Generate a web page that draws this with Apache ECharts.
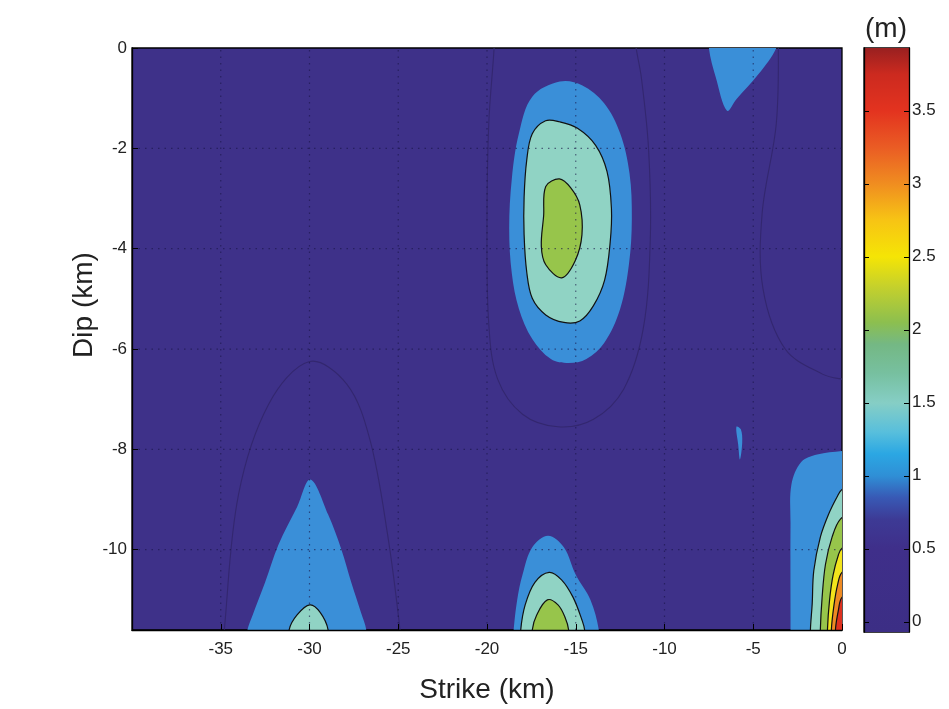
<!DOCTYPE html>
<html>
<head>
<meta charset="utf-8">
<script src="https://cdn.jsdelivr.net/npm/echarts@6/dist/echarts.min.js"></script>
<style>
  html, body { margin: 0; padding: 0; background: #ffffff; }
  #chart { width: 949px; height: 709px; }
</style>
</head>
<body>
<div id="chart"></div>
<script>
// ---- Fault plane extent and ticks (km) ----
const strikeRange = [-40, 0];
const dipRange = [-11.6, 0];
const strikeTicks = [-35, -30, -25, -20, -15, -10, -5, 0];
const dipTicks = [0, -2, -4, -6, -8, -10];

// ---- Slip colour scale (m) ----
const slipRange = [-0.07, 3.93];
const colorbarTicks = [0, 0.5, 1, 1.5, 2, 2.5, 3, 3.5];
const slipLevels = [1.0, 1.5, 2.0, 2.5, 3.0, 3.5];

// ---- Filled contour regions: areas where slip >= level, outlines as [strike, dip] ----
const slipAbove10 = [
  [[-15.9,-0.67],[-17.45,-0.97],[-18.2,-1.7],[-18.6,-2.6],[-18.75,-3.6],[-18.6,-4.5],[-18.2,-5.2],[-17.45,-5.8],[-16.4,-6.2],[-15.4,-6.28],[-14.4,-6.2],[-13.4,-5.88],[-12.5,-5.2],[-12.0,-4.3],[-11.84,-3.4],[-11.97,-2.5],[-12.5,-1.7],[-13.4,-1.1],[-14.65,-0.74]],
  [[-7.5,0.5],[-7.5,0],[-7.1,-0.6],[-6.48,-1.25],[-5.95,-1.02],[-4.7,-0.52],[-3.7,0],[-3.4,0.5]],
  [[-5.95,-7.55],[-5.7,-7.6],[-5.62,-7.85],[-5.75,-8.2],[-5.85,-7.9]],
  [[-33.8,-12.2],[-33.5,-11.6],[-33.2,-11.3],[-32.5,-10.65],[-31.75,-9.9],[-30.7,-9.15],[-29.95,-8.6],[-28.95,-9.3],[-28.2,-10.0],[-27.65,-10.65],[-27.1,-11.25],[-26.8,-11.6],[-26.7,-12.2]],
  [[-18.6,-12.2],[-18.5,-11.6],[-18.3,-11.0],[-18.0,-10.5],[-17.45,-9.95],[-16.56,-9.72],[-15.67,-9.95],[-15.0,-10.5],[-14.17,-11.0],[-13.7,-11.6],[-13.6,-12.2]],
  [[-2.9,-12.2],[-2.9,-11.6],[-2.9,-9.5],[-2.85,-8.7],[-2.3,-8.25],[-1.4,-8.1],[0,-8.03],[0.6,-8.0],[0.6,-12.2]]
];
const slipAbove15 = [
  [[-16.7,-1.45],[-17.45,-1.71],[-17.76,-2.23],[-17.91,-2.98],[-17.91,-3.72],[-17.76,-4.47],[-17.45,-4.99],[-16.69,-5.32],[-15.67,-5.47],[-14.77,-5.44],[-14.01,-5.14],[-13.37,-4.62],[-13.06,-3.87],[-12.99,-3.2],[-13.24,-2.46],[-13.88,-1.94],[-14.9,-1.6],[-15.92,-1.47]],
  [[-31.2,-12.2],[-31.15,-11.6],[-30.7,-11.3],[-29.98,-11.1],[-29.4,-11.25],[-28.95,-11.6],[-28.9,-12.2]],
  [[-18.15,-12.2],[-18.1,-11.6],[-17.85,-11.1],[-17.3,-10.65],[-16.5,-10.45],[-15.8,-10.6],[-15.15,-10.95],[-14.65,-11.4],[-14.5,-11.6],[-14.45,-12.2]],
  [[-1.8,-12.2],[-1.78,-11.6],[-1.68,-11.08],[-1.59,-10.42],[-1.22,-9.75],[-0.75,-9.29],[-0.28,-8.95],[0,-8.8],[0.6,-8.75],[0.6,-12.2]]
];
const slipAbove20 = [
  [[-15.92,-2.61],[-16.69,-2.76],[-16.81,-3.35],[-16.94,-3.95],[-16.69,-4.32],[-15.79,-4.58],[-15.03,-4.24],[-14.65,-3.72],[-14.77,-3.13],[-15.28,-2.79]],
  [[-17.5,-12.2],[-17.45,-11.6],[-17.2,-11.3],[-16.6,-11.0],[-16.0,-11.1],[-15.6,-11.35],[-15.4,-11.6],[-15.35,-12.2]],
  [[-1.22,-12.2],[-1.22,-11.6],[-1.12,-10.95],[-0.93,-10.29],[-0.56,-9.75],[-0.09,-9.39],[0.6,-9.3],[0.6,-12.2]]
];
const slipAbove25 = [
  [[-0.82,-12.2],[-0.82,-11.6],[-0.7,-11.0],[-0.5,-10.5],[-0.2,-10.1],[0,-9.97],[0.6,-9.9],[0.6,-12.2]]
];
const slipAbove30 = [
  [[-0.6,-12.2],[-0.6,-11.6],[-0.45,-11.1],[-0.25,-10.7],[0,-10.45],[0.6,-10.4],[0.6,-12.2]]
];
const slipAbove35 = [
  [[-0.37,-12.2],[-0.37,-11.6],[-0.2,-11.2],[0,-10.95],[0.6,-10.9],[0.6,-12.2]]
];
const slipRegions = [slipAbove10, slipAbove15, slipAbove20, slipAbove25, slipAbove30, slipAbove35];

// Low-slip (0.5 m) contour lines inside the background band
const slipLine05 = [
  [[-19.6,0.3],[-19.6,0],[-19.9,-1.5],[-20.0,-3.5],[-19.9,-5.5],[-19.4,-6.6],[-18.0,-7.3],[-16.0,-7.55],[-14.0,-7.4],[-12.3,-6.8],[-11.2,-5.6],[-10.8,-3.8],[-10.9,-2.0],[-11.3,-0.6],[-11.6,0],[-11.7,0.3]],
  [[-34.9,-12.2],[-34.8,-11.6],[-34.0,-8.9],[-32.3,-7.1],[-30.0,-6.25],[-27.9,-6.7],[-26.6,-7.8],[-25.6,-9.7],[-24.9,-11.6],[-24.8,-12.2]],
  [[-3.6,0.3],[-3.7,-1.5],[-4.5,-3.3],[-4.45,-4.8],[-3.2,-6.0],[-1.1,-6.5],[0,-6.6],[0.6,-6.6]]
];

// ---- Styling ----
const backgroundFill = '#3e3189';
const bandFills = ['#3a8fd8', '#90d3c4', '#97c54b', '#f3e41c', '#ee8a23', '#de311f'];
const bandStrokes = [null, '#111', '#111', '#111', '#111', '#111'];
const colormapStops = [
  [-0.07, '#3c2e85'], [0.5, '#3f2f8a'], [0.7, '#3d3a95'], [0.85, '#3859b5'],
  [1.0, '#2f8fd6'], [1.15, '#2ba7e3'], [1.3, '#58bfdc'], [1.5, '#86cec5'],
  [1.7, '#77c0a0'], [1.9, '#74b884'], [2.05, '#8cbf4f'], [2.3, '#c6d12b'],
  [2.5, '#f5e505'], [2.75, '#f7c414'], [3.0, '#f08d20'], [3.25, '#ea5c24'],
  [3.5, '#e3331f'], [3.75, '#cc2a1f'], [3.93, '#992020']
];
const textColor = '#222';
const fontFamily = 'Arial, "Liberation Sans", sans-serif';

const chart = echarts.init(document.getElementById('chart'), null, { renderer: 'canvas' });

function regionSeries(regions, fill, stroke) {
  return {
    type: 'custom',
    xAxisIndex: 0,
    yAxisIndex: 0,
    clip: true,
    silent: true,
    animation: false,
    z: 2,
    data: regions.map(r => r[0]),
    renderItem: function (params, api) {
      const pts = regions[params.dataIndex].map(p => api.coord(p));
      return {
        type: 'polygon',
        shape: { points: pts, smooth: 0.35 },
        style: { fill: fill, stroke: stroke || 'none', lineWidth: stroke ? 1.2 : 0 }
      };
    }
  };
}

function lineSeries(lines, color, width, dash, z) {
  return {
    type: 'custom',
    xAxisIndex: 0,
    yAxisIndex: 0,
    clip: true,
    silent: true,
    animation: false,
    z: z,
    data: lines.map(l => l[0]),
    renderItem: function (params, api) {
      const pts = lines[params.dataIndex].map(p => api.coord(p));
      return {
        type: 'polyline',
        shape: { points: pts, smooth: dash ? 0 : 0.35 },
        style: { fill: 'none', stroke: color, lineWidth: width, lineDash: dash || null }
      };
    }
  };
}

// Dotted grid lines at every interior tick
const gridLines = [];
strikeTicks.forEach(s => { if (s > strikeRange[0] && s < strikeRange[1]) gridLines.push([[s, dipRange[0]], [s, dipRange[1]]]); });
dipTicks.forEach(d => { if (d > dipRange[0] && d < dipRange[1]) gridLines.push([[strikeRange[0], d], [strikeRange[1], d]]); });

const series = [];
series.push(lineSeries(slipLine05, '#33276f', 1.1, null, 1));
slipRegions.forEach((regions, i) => series.push(regionSeries(regions, bandFills[i], bandStrokes[i])));
series.push(lineSeries(gridLines, 'rgba(25,20,70,0.6)', 1.2, [1.5, 5], 3));

// Colour bar drawn on its own value axis
const cbStops = colormapStops.map(s => ({
  offset: (s[0] - slipRange[0]) / (slipRange[1] - slipRange[0]),
  color: s[1]
}));
series.push({
  type: 'custom',
  xAxisIndex: 1,
  yAxisIndex: 1,
  silent: true,
  animation: false,
  data: [[0, slipRange[0]]],
  renderItem: function (params, api) {
    const top = api.coord([1, slipRange[1]]);
    const bot = api.coord([0, slipRange[0]]);
    return {
      type: 'rect',
      shape: { x: bot[0], y: top[1], width: top[0] - bot[0], height: bot[1] - top[1] },
      style: { fill: new echarts.graphic.LinearGradient(0, 1, 0, 0, cbStops) }
    };
  }
});

const axisLineStyle = { show: true, onZero: false, lineStyle: { color: '#000', width: 1.3 } };
const labelStyle = { color: textColor, fontSize: 17, fontFamily: fontFamily };

const option = {
  backgroundColor: '#ffffff',
  animation: false,
  grid: [
    { left: 132, right: 107, top: 48, bottom: 79, show: true, backgroundColor: backgroundFill, borderColor: '#000', borderWidth: 1.3, containLabel: false },
    { left: 864, width: 45, top: 48, bottom: 77, show: true, borderColor: '#000', borderWidth: 1.3, containLabel: false }
  ],
  xAxis: [
    {
      type: 'value', gridIndex: 0, position: 'bottom', z: 6,
      min: strikeRange[0], max: strikeRange[1], interval: 5,
      axisLine: axisLineStyle,
      axisTick: { show: true, inside: true, length: 6, lineStyle: { color: '#000' } },
      axisLabel: Object.assign({ showMinLabel: false, margin: 11 }, labelStyle),
      splitLine: { show: false },
      name: 'Strike (km)', nameLocation: 'middle', nameGap: 46,
      nameTextStyle: { color: textColor, fontSize: 28, fontFamily: fontFamily }
    },
    {
      type: 'value', gridIndex: 1, min: 0, max: 1, show: false
    }
  ],
  yAxis: [
    {
      type: 'value', gridIndex: 0, position: 'left', z: 6,
      min: dipRange[0], max: dipRange[1],
      axisLine: axisLineStyle,
      axisTick: { show: true, inside: true, length: 6, customValues: dipTicks, lineStyle: { color: '#000' } },
      axisLabel: Object.assign({ customValues: dipTicks, margin: 5 }, labelStyle),
      splitLine: { show: false }
    },
    {
      type: 'value', gridIndex: 1, position: 'right', z: 6,
      min: slipRange[0], max: slipRange[1],
      axisLine: axisLineStyle,
      axisTick: { show: true, inside: true, length: 5, customValues: colorbarTicks, lineStyle: { color: '#000' } },
      axisLabel: Object.assign({ customValues: colorbarTicks, margin: 3 }, labelStyle),
      splitLine: { show: false }
    },
    {
      type: 'value', gridIndex: 1, position: 'left', z: 6,
      min: slipRange[0], max: slipRange[1],
      axisLine: axisLineStyle,
      axisTick: { show: true, inside: true, length: 5, customValues: colorbarTicks, lineStyle: { color: '#000' } },
      axisLabel: { show: false },
      splitLine: { show: false }
    }
  ],
  graphic: [
    {
      type: 'text', x: 886, y: 29,
      style: { text: '(m)', fill: textColor, font: '28px ' + fontFamily, textAlign: 'center', textVerticalAlign: 'middle' }
    },
    {
      type: 'text', x: 84, y: 305, rotation: Math.PI / 2,
      style: { text: 'Dip (km)', fill: textColor, font: '28px ' + fontFamily, textAlign: 'center', textVerticalAlign: 'middle' }
    }
  ],
  series: series
};

chart.setOption(option);
</script>
</body>
</html>
